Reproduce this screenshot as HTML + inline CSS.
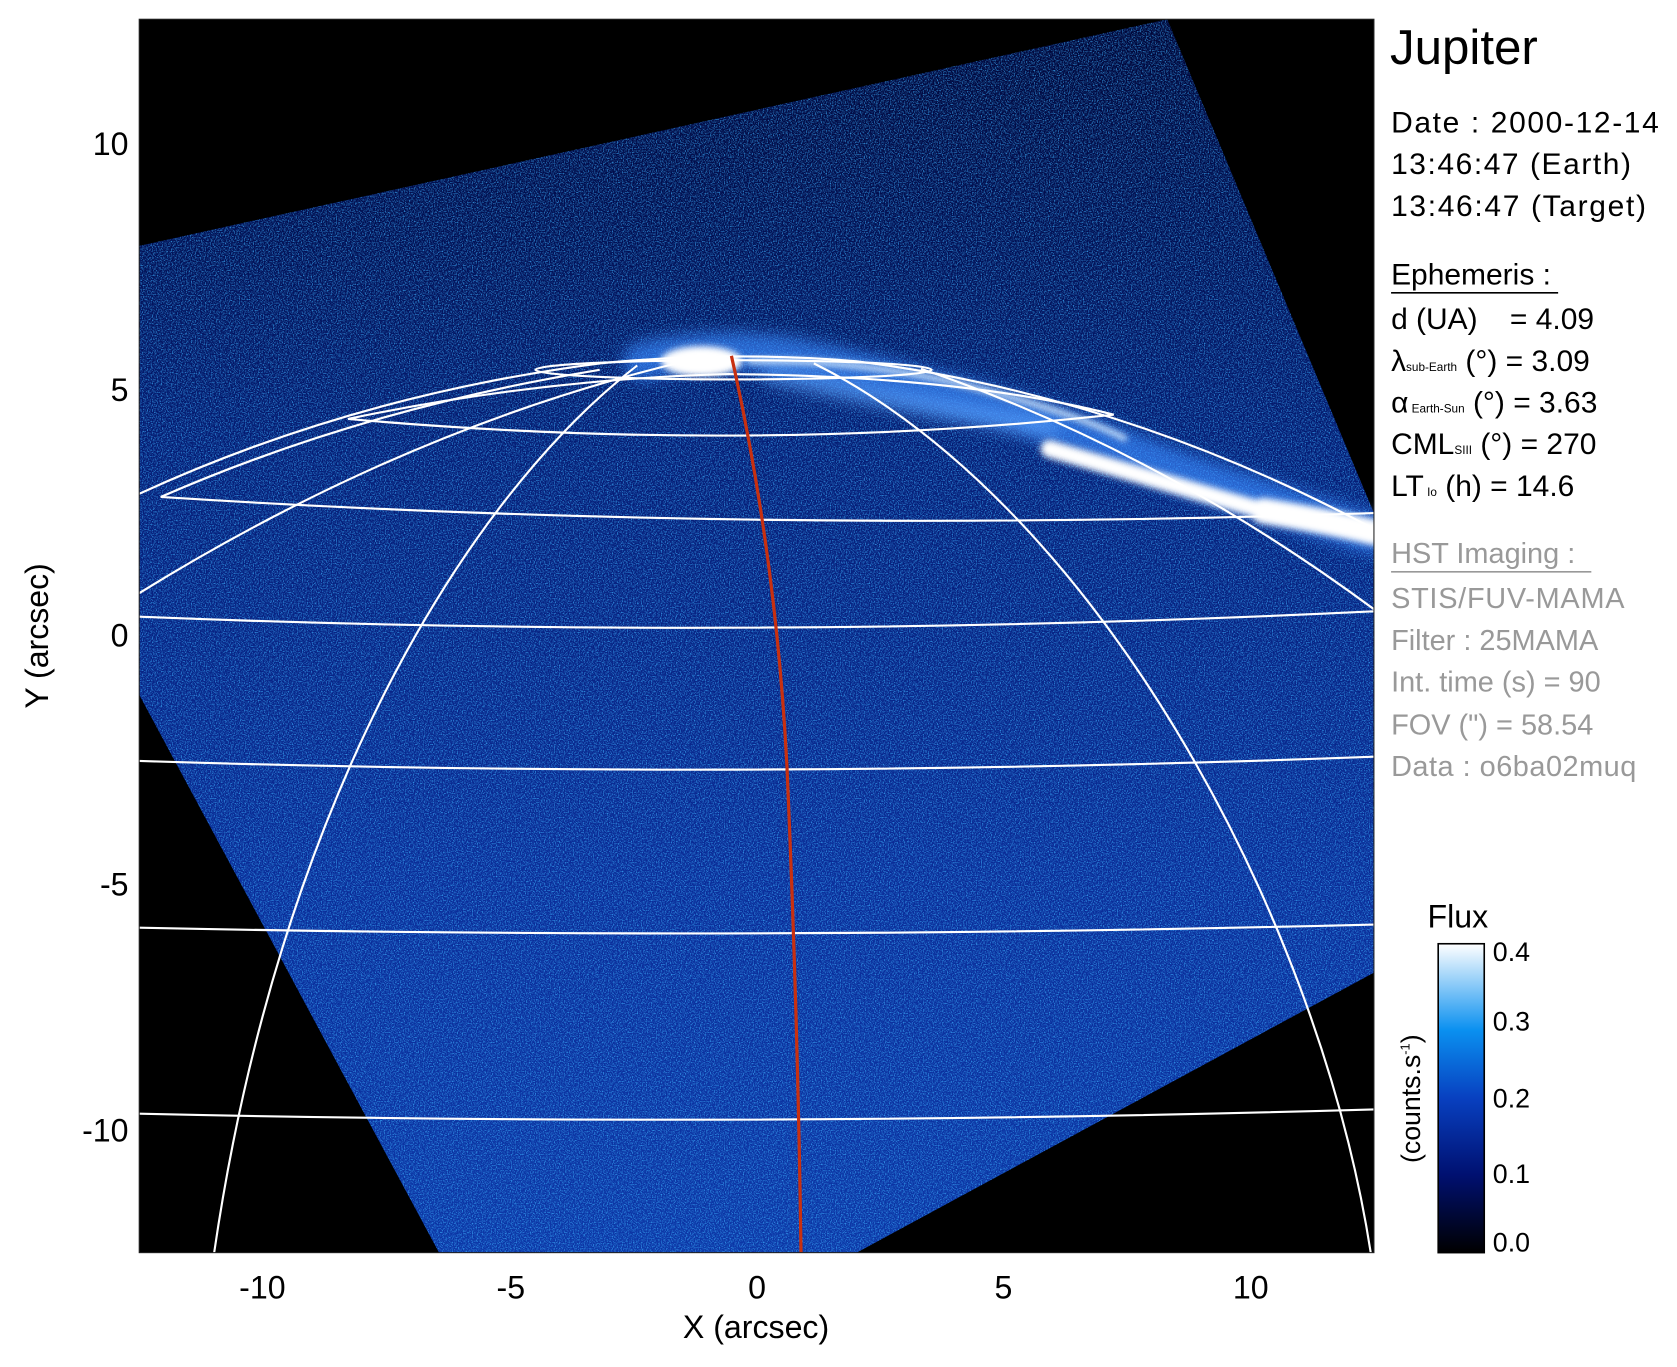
<!DOCTYPE html>
<html><head><meta charset="utf-8"><style>
html,body{margin:0;padding:0;background:#fff;}
svg{display:block;}
text{font-family:"Liberation Sans",sans-serif;}
</style></head><body>
<svg width="1677" height="1367" viewBox="0 0 1566 1279" preserveAspectRatio="none" xmlns="http://www.w3.org/2000/svg">
<defs>
<filter id="noise" x="0" y="0" width="100%" height="100%">
<feTurbulence type="fractalNoise" baseFrequency="0.85" numOctaves="2" seed="3"/>
<feColorMatrix type="matrix" values="0 0 0 0 0.05  0 0 0 0 0.45  0 0 0 0 1  3 0 0 0 -1.35"/>
</filter>
<linearGradient id="bg" x1="0" y1="0" x2="0" y2="1">
<stop offset="0" stop-color="#010638"/>
<stop offset="0.18" stop-color="#021054"/>
<stop offset="0.35" stop-color="#051c74"/>
<stop offset="0.7" stop-color="#0a2c98"/>
<stop offset="1" stop-color="#0c36a6"/>
</linearGradient>
<linearGradient id="cb" x1="0" y1="1" x2="0" y2="0">
<stop offset="0" stop-color="#000000"/>
<stop offset="0.25" stop-color="#001070"/>
<stop offset="0.5" stop-color="#0840c0"/>
<stop offset="0.72" stop-color="#0a90f0"/>
<stop offset="1" stop-color="#ffffff"/>
</linearGradient>
<filter id="blur" x="-20%" y="-20%" width="140%" height="140%"><feGaussianBlur stdDeviation="7"/></filter>
<filter id="blur2" x="-20%" y="-20%" width="140%" height="140%"><feGaussianBlur stdDeviation="3"/></filter>
<clipPath id="pc"><rect x="130" y="18" width="1153" height="1154"/></clipPath>
<clipPath id="poly"><polygon points="130,230 1090,18 1283,480 1283,910 800,1172 410,1172 130,650"/></clipPath>
</defs>
<rect x="130" y="18" width="1153" height="1154" fill="#000"/>
<g clip-path="url(#pc)">
<polygon points="130,230 1090,18 1283,480 1283,910 800,1172 410,1172 130,650" fill="url(#bg)"/>
<g clip-path="url(#poly)"><rect x="130" y="18" width="1153" height="1154" filter="url(#noise)" opacity="0.75"/></g>
<!-- aurora -->
<g filter="url(#blur)" fill="none" stroke-linecap="round">
<path d="M600,338 Q680,320 760,338 Q950,380 1100,440 Q1200,475 1283,500" stroke="#3a8cff" stroke-width="36" opacity="0.65"/>
<path d="M720,350 Q850,380 980,400" stroke="#5aa4ff" stroke-width="18" opacity="0.6"/>
</g>
<g filter="url(#blur2)" fill="none" stroke-linecap="round">
<ellipse cx="655" cy="338" rx="38" ry="14" fill="#fff" stroke="none"/>
<path d="M700,338 Q800,336 900,360 Q1000,385 1050,410" stroke="#d8ecff" stroke-width="5"/>
<path d="M980,420 Q1100,455 1180,478 Q1240,490 1283,500" stroke="#fff" stroke-width="16"/>
<path d="M1180,478 Q1240,488 1283,498" stroke="#fff" stroke-width="24"/>
</g>
<!-- grid -->
<g fill="none" stroke="#fff" stroke-width="2">
<path d="M130,462 Q330,370 560,340 Q680,328 800,338 Q1050,370 1283,495"/>
<path d="M150,465 Q340,382 560,346"/>
<ellipse cx="685" cy="346" rx="185" ry="9"/>
<path d="M325,392 Q500,355 680,350 Q900,352 1040,388 Q700,425 325,392 Z"/>
<path d="M150,465 Q700,500 1283,480"/>
<path d="M130,577 Q700,600 1283,572"/>
<path d="M130,712 Q700,730 1283,708"/>
<path d="M130,868 Q700,880 1283,865"/>
<path d="M130,1042 Q700,1055 1283,1038"/>
<path d="M640,338 Q380,400 130,555"/>
<path d="M595,342 C430,470 260,760 200,1172"/>
<path d="M760,340 C1020,470 1230,850 1280,1172"/>
<path d="M860,345 Q1080,420 1283,570"/>
</g>
<path d="M683,333 Q725,520 735,720 Q745,950 748,1172" fill="none" stroke="#c83010" stroke-width="3"/>
</g>
<rect x="130" y="18" width="1153" height="1154" fill="none" stroke="#222" stroke-width="1"/>
<!-- axis labels -->
<g font-size="30" fill="#000">
<g text-anchor="middle">
<text x="245" y="1215">-10</text><text x="477" y="1215">-5</text><text x="707" y="1215">0</text><text x="937" y="1215">5</text><text x="1168" y="1215">10</text>
<text x="706" y="1252">X (arcsec)</text>
</g>
<g text-anchor="end">
<text x="120" y="145">10</text><text x="120" y="375">5</text><text x="120" y="605">0</text><text x="120" y="838">-5</text><text x="120" y="1068">-10</text>
</g>
<text transform="translate(45,595) rotate(-90)" text-anchor="middle">Y (arcsec)</text>
</g>
<!-- right info -->
<g fill="#000">
<text x="1298" y="60" font-size="46">Jupiter</text>
<g font-size="28">
<text x="1299" y="124" textLength="250">Date : 2000-12-14</text>
<text x="1299" y="163" textLength="224">13:46:47 (Earth)</text>
<text x="1299" y="202" textLength="238">13:46:47 (Target)</text>
<text x="1299" y="266">Ephemeris :</text>
<text x="1299" y="308">d (UA)</text><text x="1410" y="308">= 4.09</text>
<text x="1299" y="347">λ<tspan font-size="11">sub-Earth</tspan> (°) = 3.09</text>
<text x="1299" y="386">α<tspan font-size="11"> Earth-Sun</tspan> (°) = 3.63</text>
<text x="1299" y="425">CML<tspan font-size="11">SIII</tspan> (°) = 270</text>
<text x="1299" y="464">LT<tspan font-size="11"> Io</tspan> (h) = 14.6</text>
</g>
<line x1="1299" y1="274" x2="1455" y2="274" stroke="#000" stroke-width="1.5"/>
<g font-size="27" fill="#999">
<text x="1299" y="527">HST Imaging :</text>
<text x="1299" y="569" textLength="218">STIS/FUV-MAMA</text>
<text x="1299" y="608">Filter : 25MAMA</text>
<text x="1299" y="647">Int. time (s) = 90</text>
<text x="1299" y="687">FOV (") = 58.54</text>
<text x="1299" y="726" textLength="229">Data : o6ba02muq</text>
</g>
<line x1="1299" y1="535" x2="1486" y2="535" stroke="#999" stroke-width="1.5"/>
<!-- colorbar -->
<text x="1333" y="868" font-size="30">Flux</text>
<rect x="1343" y="883" width="43" height="289" fill="url(#cb)" stroke="#000" stroke-width="1.5"/>
<g font-size="25">
<text x="1394" y="899">0.4</text><text x="1394" y="964">0.3</text><text x="1394" y="1036">0.2</text><text x="1394" y="1107">0.1</text><text x="1394" y="1171">0.0</text>
</g>
<text transform="translate(1326,1028) rotate(-90)" text-anchor="middle" font-size="25">(counts.s<tspan font-size="12" dy="-10">-1</tspan><tspan dy="10">)</tspan></text>
</g>
</svg>
</body></html>
